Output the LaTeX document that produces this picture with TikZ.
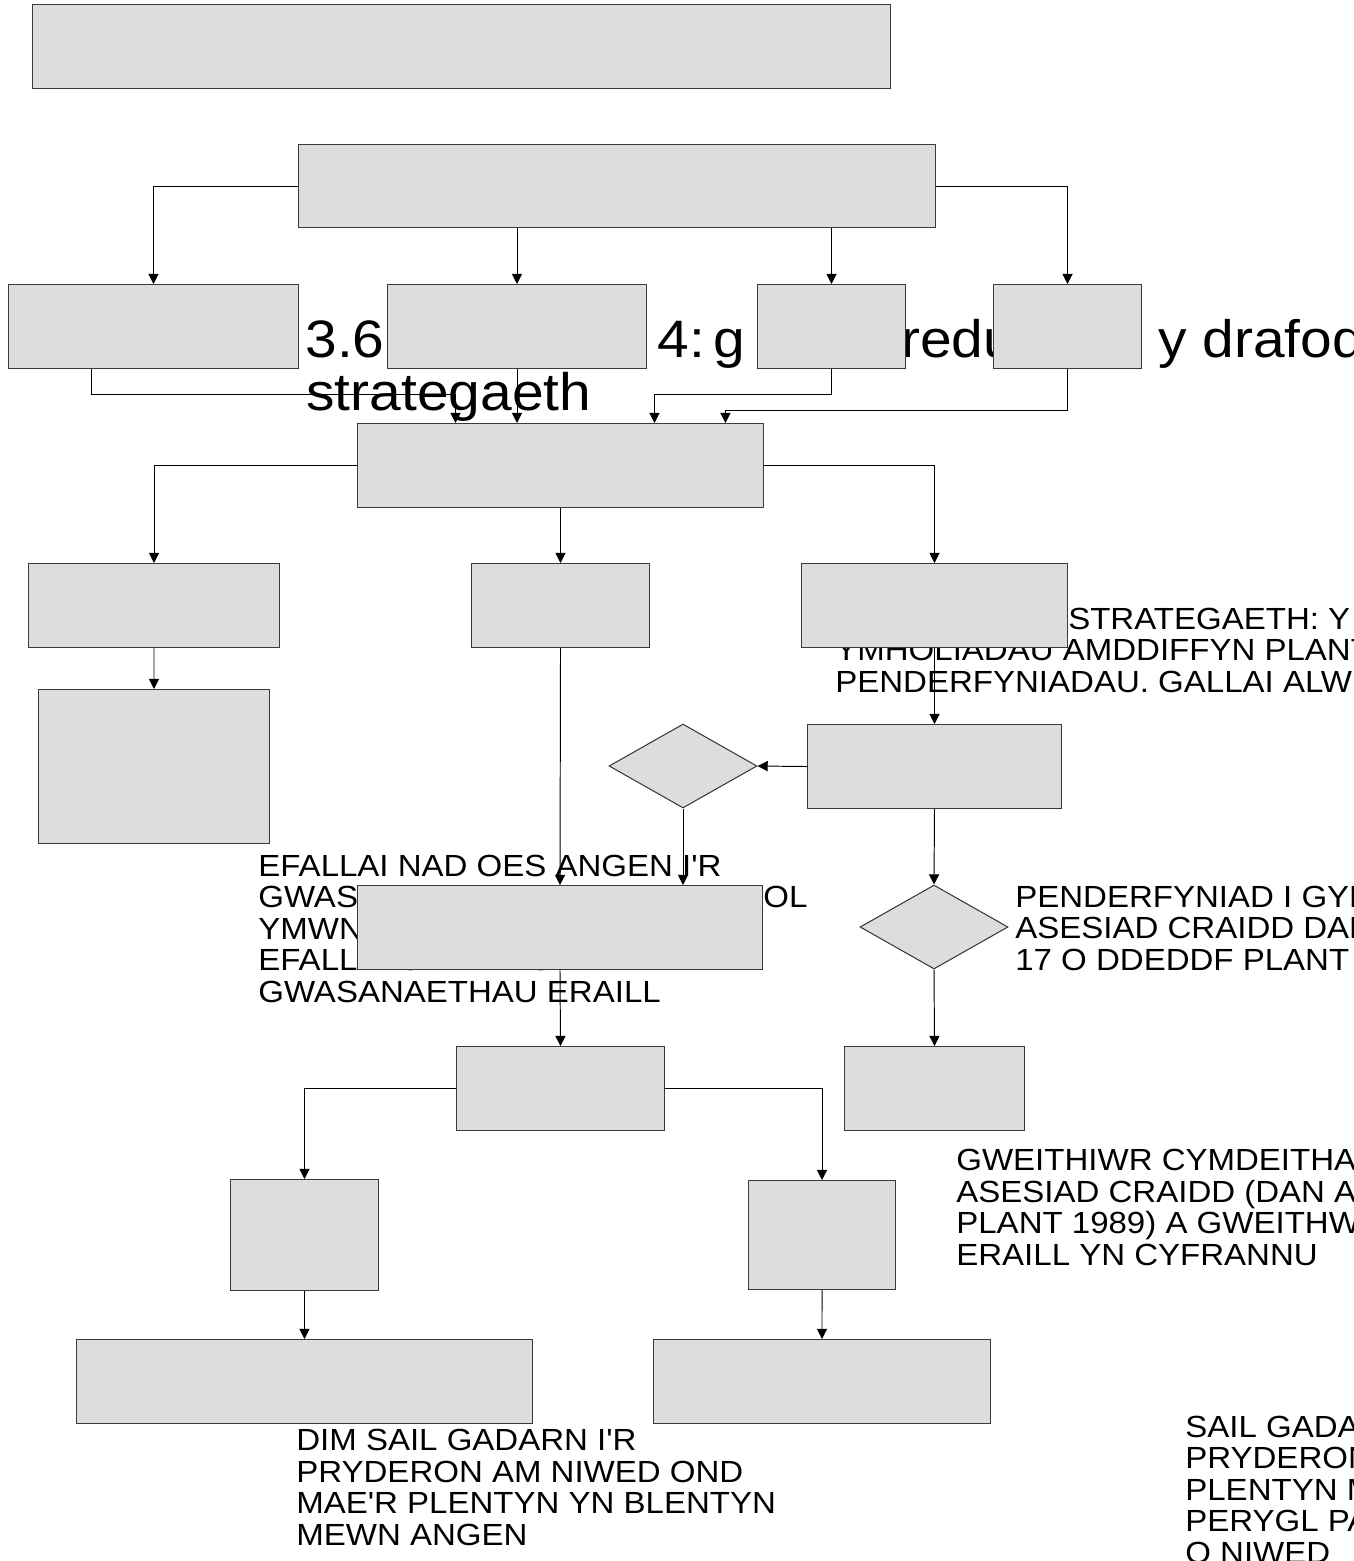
\documentclass[tikz,border=0pt]{standalone}
\usepackage{fontspec}
\setmainfont{Liberation Sans}[FakeStretch=1.08, Ligatures=TeXOff]
\usetikzlibrary{shapes.geometric,arrows.meta}
\definecolor{boxfill}{HTML}{DDDDDD}
\definecolor{boxline}{HTML}{3A3A3A}
\tikzset{
  box/.style={draw=boxline, fill=boxfill, line width=0.6pt, inner sep=0pt,
    anchor=north west, minimum height=1.68cm},
  dia/.style={diamond, draw=boxline, fill=boxfill, line width=0.6pt, inner sep=0pt,
    minimum width=2.96cm, minimum height=1.68cm},
  conn/.style={line width=0.55pt, -{Triangle[length=5.8pt,width=5.8pt]}},
  % base of a multi-line note = baseline of its last line
  note/.style={anchor=base west, inner sep=0pt, align=left,
    font=\fontsize{17.4}{17.86}\selectfont},
  big/.style={anchor=base west, inner sep=0pt, font=\fontsize{30}{30}\selectfont},
}

\begin{document}
\begin{tikzpicture}[x=0.02cm, y=-0.02cm]
  \useasboundingbox[fill=white] (0,0) rectangle (1353,1561);

  % text that sits behind the boxes
  \node[big] (t36)   at (305,357)  {3.6};
  \node[big] (t4g)   at (657,357)  {4:\,g};
  \node[big] (tredu) at (901,357)  {redu};
  \node[big] (tdraf) at (1158,357) {y drafodaeth};
  \node[big] (tstr)  at (306,410)  {strategaeth};

  \node[note] (nstrat) at (835,692)
    {TRAFODAETH STRATEGAETH: Y\\YMHOLIADAU AMDDIFFYN PLANT\\PENDERFYNIADAU. GALLAI ALW};
  \node[note] (nefal) at (258,1002)
    {EFALLAI NAD OES ANGEN I'R\\GWASANAETHAU CYMDEITHASOL\\YMWNEUD YMHELLACH.\\EFALLAI CYFEIRIO AT\\GWASANAETHAU ERAILL};
  \node[note] (npend) at (1015,970)
    {PENDERFYNIAD I GYNNAL\\ASESIAD CRAIDD DAN\\17 O DDEDDF PLANT 1989};
  \node[note] (ngwei) at (956,1265)
    {GWEITHIWR CYMDEITHASOL\\ASESIAD CRAIDD (DAN ADRAN\\PLANT 1989) A GWEITHWYR\\ERAILL YN CYFRANNU};
  \node[note] (ndim) at (296,1545)
    {DIM SAIL GADARN I'R\\PRYDERON AM NIWED OND\\MAE'R PLENTYN YN BLENTYN\\MEWN ANGEN};
  \node[note] (nsail) at (1185,1563)
    {SAIL GADARN I'R\\PRYDERON AM\\PLENTYN MEWN\\PERYGL PARHAUS\\O NIWED};

  % boxes
  \node[box, minimum width=17.16cm] (top) at (32,4) {};
  \node[box, minimum width=12.74cm, minimum height=1.66cm] (disc) at (298,144) {};
  \node[box, minimum width=5.8cm]  (r2a) at (8,284) {};
  \node[box, minimum width=5.18cm] (r2b) at (387,284) {};
  \node[box, minimum width=2.96cm] (r2c) at (757,284) {};
  \node[box, minimum width=2.96cm] (r2d) at (993,284) {};
  \node[box, minimum width=8.12cm] (mid) at (357,423) {};
  \node[box, minimum width=5.02cm] (r4a) at (28,563) {};
  \node[box, minimum width=3.56cm] (r4b) at (471,563) {};
  \node[box, minimum width=5.32cm] (r4c) at (801,563) {};
  \node[box, minimum width=4.62cm, minimum height=3.08cm] (r5a) at (38,689) {};
  \node[box, minimum width=5.08cm] (r5c) at (807,724) {};
  \node[dia] (d1) at (683,766) {};
  \node[dia] (d2) at (934,927) {};
  \node[box, minimum width=8.1cm]  (r6)  at (357,885) {};
  \node[box, minimum width=4.16cm] (r7)  at (456,1046) {};
  \node[box, minimum width=3.6cm]  (r7r) at (844,1046) {};
  \node[box, minimum width=2.96cm, minimum height=2.22cm] (r8a) at (230,1179) {};
  \node[box, minimum width=2.94cm, minimum height=2.18cm] (r8b) at (748,1180) {};
  \node[box, minimum width=9.12cm] (r9a) at (76,1339) {};
  \node[box, minimum width=6.74cm] (r9b) at (653,1339) {};

  % connectors
  \draw[conn] (disc.west) -| (r2a.north);
  \draw[conn] (disc.east) -| (r2d.north);
  \draw[conn] (disc.south -| r2b.north) -- (r2b.north);
  \draw[conn] (disc.south -| r2c.north) -- (r2c.north);

  \draw[conn] ([xshift=-1.24cm]r2a.south) |- ([xshift=-2.1cm,yshift=0.58cm]mid.north)
    -- ([xshift=-2.1cm]mid.north);
  \draw[conn] (r2b.south) -- (r2b.south |- mid.north);
  \draw[conn] (r2c.south) |- ([xshift=1.88cm,yshift=0.58cm]mid.north)
    -- ([xshift=1.88cm]mid.north);
  \draw[conn] (r2d.south) |- ([xshift=3.3cm,yshift=0.26cm]mid.north)
    -- ([xshift=3.3cm]mid.north);

  \draw[conn] (mid.west) -| (r4a.north);
  \draw[conn] (mid.east) -| (r4c.north);
  \draw[conn] (mid.south) -- (r4b.north);

  \draw[conn] (r4a.south) -- (r5a.north);
  \draw[conn] (r4b.south) -- (r6.north);
  \draw[conn] (r4c.south) -- (r5c.north);
  \draw[conn] (r5c.west) -- (d1.east);
  \draw[conn] (d1.south) -- (d1.south |- r6.north);
  \draw[conn] (r5c.south) -- (d2.north);
  \draw[conn] (d2.south) -- (r7r.north);
  \draw[conn] (r6.south) -- (r7.north);

  \draw[conn] (r7.west) -| (r8a.north);
  \draw[conn] (r7.east) -| (r8b.north);
  \draw[conn] (r8a.south) -- (r9a.north);
  \draw[conn] (r8b.south) -- (r9b.north);
\end{tikzpicture}
\end{document}
